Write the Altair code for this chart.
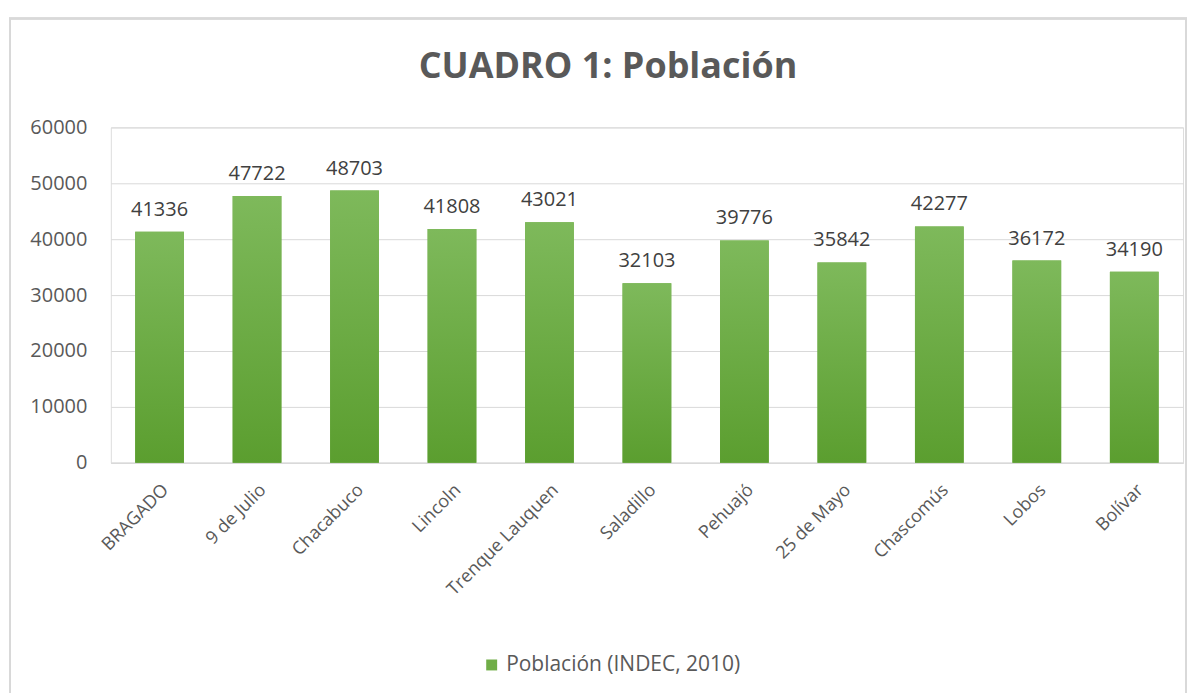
import altair as alt
import pandas as pd

categories = ["BRAGADO", "9 de Julio", "Chacabuco", "Lincoln", "Trenque Lauquen",
              "Saladillo", "Pehuajó", "25 de Mayo", "Chascomús", "Lobos", "Bolívar"]
values = [41336, 47722, 48703, 41808, 43021, 32103, 39776, 35842, 42277, 36172, 34190]
series_name = "Población (INDEC, 2010)"

df = pd.DataFrame({"Partido": categories, "Valor": values, "Serie": series_name})

FONT = "Open Sans"
GRAY = "#595959"

x = alt.X("Partido:N", sort=categories, title=None,
          scale=alt.Scale(paddingInner=0.5, paddingOuter=0.25),
          axis=alt.Axis(labelAngle=-45, labelAlign="right", labelBaseline="top",
                        labelFontSize=18, labelColor=GRAY, labelFont=FONT,
                        ticks=False, domainColor="#d9d9d9", domainWidth=1.5,
                        labelPadding=18, labelLimit=0))
y = alt.Y("Valor:Q", title=None,
          scale=alt.Scale(domain=[0, 60000]),
          axis=alt.Axis(values=[0, 10000, 20000, 30000, 40000, 50000, 60000],
                        labelFontSize=20, labelColor=GRAY, labelFont=FONT,
                        ticks=False, domain=False, gridColor="#d9d9d9",
                        labelPadding=24, format="d"))

base = alt.Chart(df)

frame = base.mark_rect(fill="transparent", stroke="#d9d9d9", strokeWidth=1.5).encode(
    x=alt.value(-101), x2=alt.value(1077), y=alt.value(-109), y2=alt.value(600)
)

legend_layer = base.mark_bar().encode(
    x=x, y=y,
    color=alt.Color("Serie:N", scale=alt.Scale(range=["#70AD47"]),
                    legend=alt.Legend(title=None, orient="none", legendX=371, legendY=528,
                                      symbolType="square", symbolSize=120,
                                      symbolStrokeWidth=0, labelLimit=0,
                                      labelFontSize=21, labelColor=GRAY, labelFont=FONT))
)

bars = base.mark_bar(
    color=alt.Gradient(gradient="linear", x1=0, y1=0, x2=0, y2=1,
                       stops=[alt.GradientStop(color="#7EB95B", offset=0),
                              alt.GradientStop(color="#5B9E2F", offset=1)])
).encode(x=x, y=y)

labels = base.mark_text(baseline="bottom", dy=-12, fontSize=20, color="#404040", font=FONT).encode(
    x=x, y=y, text=alt.Text("Valor:Q", format="d")
)

chart = alt.layer(frame, legend_layer, bars, labels).properties(
    width=1074, height=336,
    title=alt.Title("CUADRO 1: Población", fontSize=36, font=FONT, fontWeight="bold",
                    color=GRAY, anchor="middle", dx=-39, offset=-68),
    autosize=alt.AutoSizeParams(type="none"),
    padding={"left": 103, "top": 119, "right": 5, "bottom": 230}
).configure_view(strokeWidth=0).configure(background="white")

chart.save("out.html", embed_options={"renderer": "svg", "actions": False})
